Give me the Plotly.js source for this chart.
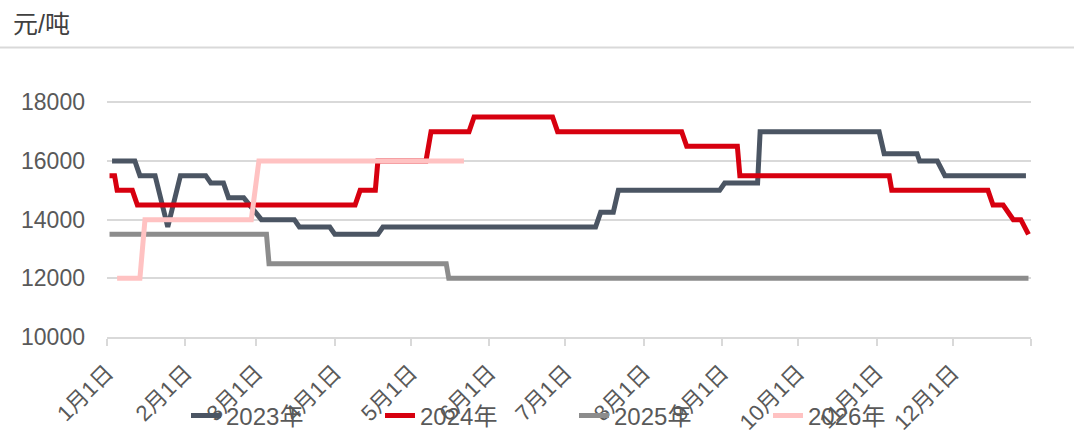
<!DOCTYPE html>
<html>
<head>
<meta charset="utf-8">
<script src="https://cdn.plot.ly/plotly-3.0.1.min.js"></script>
<style>
html,body{margin:0;padding:0;background:#fff;}
#chart{width:1074px;height:436px;}
</style>
</head>
<body>
<div id="chart"></div>
<script>
// ---- data (month-day, value in 元/吨) ----
const seriesNames = ['2023年', '2024年', '2025年', '2026年'];

const dates2023 = ['01-03','01-12','01-14','01-20','01-25','01-30','02-09','02-11','02-16','02-18','02-24','03-03','03-16','03-18','03-30','04-01','04-18','04-20','07-13','07-15','07-20','07-22','08-31','09-02','09-15','09-16','11-02','11-04','11-17','11-18','11-25','11-28','12-30'];
const values2023 = [16000,16000,15500,15500,13750,15500,15500,15250,15250,14750,14750,14000,14000,13750,13750,13500,13500,13750,13750,14250,14250,15000,15000,15250,15250,17000,17000,16250,16250,16000,16000,15500,15500];

const dates2024 = ['01-02','01-04','01-05','01-11','01-13','04-09','04-11','04-17','04-18','05-07','05-09','05-24','05-26','06-26','06-28','08-16','08-18','09-07','09-08','11-06','11-07','12-15','12-17','12-21','12-25','12-28','12-31'];
const values2024 = [15500,15500,15000,15000,14500,14500,15000,15000,16000,16000,17000,17000,17500,17500,17000,17000,16500,16500,15500,15500,15000,15000,14500,14500,14000,14000,13500];

const dates2025 = ['01-02','03-05','03-06','05-15','05-16','12-31'];
const values2025 = [13500,13500,12500,12500,12000,12000];

const dates2026 = ['01-05','01-14','01-16','02-27','03-02','05-22'];
const values2026 = [12000,12000,14000,14000,16000,16000];

const tickMonthDays = ['01-01','02-01','03-01','04-01','05-01','06-01','07-01','08-01','09-01','10-01','11-01','12-01'];
const tickLabels = ['1月1日','2月1日','3月1日','4月1日','5月1日','6月1日','7月1日','8月1日','9月1日','10月1日','11月1日','12月1日'];

const colors = ['#4b5563', '#d7000f', '#8c8c8c', '#ffc2c2'];

// ---- build ----
const BASE = '2001-';
const toX = arr => arr.map(md => BASE + md);
const allDates = [dates2023, dates2024, dates2025, dates2026];
const allValues = [values2023, values2024, values2025, values2026];

const traces = seriesNames.map((name, i) => ({
  type: 'scatter',
  mode: 'lines',
  name: name,
  x: toX(allDates[i]),
  y: allValues[i],
  line: {color: colors[i], width: 5, shape: 'linear'},
  hoverinfo: 'x+y+name'
}));

const FONT = '"Liberation Sans", Arial, "Noto Sans CJK SC", sans-serif';
const L = 107, R = 1031, T = 73, B = 337;
const W = 1074, H = 436;
const pw = R - L, ph = B - T;

const layout = {
  width: W, height: H,
  margin: {l: L, r: W - R, t: T, b: H - B, pad: 0, autoexpand: false},
  paper_bgcolor: '#ffffff',
  plot_bgcolor: '#ffffff',
  font: {family: FONT, color: '#595959', size: 22},
  showlegend: true,
  title: {
    text: '元/吨',
    font: {family: FONT, size: 25, color: '#404040'},
    xref: 'container', yref: 'container',
    x: 13 / W, xanchor: 'left',
    y: 1 - 24 / H, yanchor: 'middle'
  },
  xaxis: {
    type: 'date',
    range: [BASE + '01-01', '2002-01-01'],
    tickmode: 'array',
    tickvals: toX(tickMonthDays).concat(['2002-01-01']),
    ticktext: tickLabels.concat(['']),
    tickangle: -45,
    tickfont: {family: FONT, size: 22, color: '#595959'},
    ticklabelstandoff: 5,
    ticks: 'outside', ticklen: 7, tickwidth: 2, tickcolor: '#d9d9d9',
    showline: true, linecolor: '#d9d9d9', linewidth: 2,
    showgrid: false, zeroline: false,
    fixedrange: true
  },
  yaxis: {
    range: [10000, 19000],
    tickmode: 'linear', tick0: 10000, dtick: 2000,
    tickformat: 'd',
    tickfont: {family: FONT, size: 23, color: '#595959'},
    ticks: '', ticklabelstandoff: 21,
    showgrid: true, gridcolor: '#d9d9d9', gridwidth: 2,
    showline: false, zeroline: false,
    fixedrange: true
  },
  legend: {
    orientation: 'h',
    xref: 'container', yref: 'container',
    x: 186 / W, xanchor: 'left',
    y: 1 - 416 / H, yanchor: 'middle',
    bgcolor: 'rgba(0,0,0,0)',
    font: {family: FONT, size: 24, color: '#595959'},
    entrywidth: 149, entrywidthmode: 'pixels',
    traceorder: 'normal'
  },
  shapes: [{
    type: 'line', xref: 'paper', yref: 'paper',
    x0: -L / pw, x1: (W - L) / pw,
    y0: (B - 47.5) / ph, y1: (B - 47.5) / ph,
    line: {color: '#d9d9d9', width: 2}
  }]
};

Plotly.newPlot('chart', traces, layout, {displayModeBar: false, staticPlot: true});
</script>
</body>
</html>
